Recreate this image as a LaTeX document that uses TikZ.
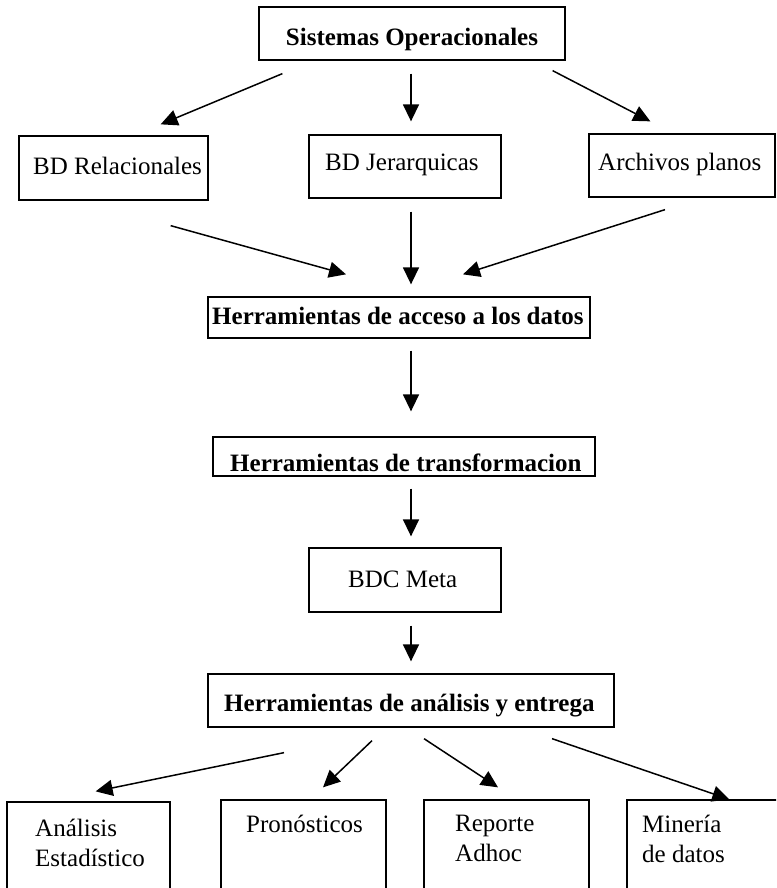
\documentclass[tikz,border=0pt]{standalone}
\usepackage{fontspec}
\setmainfont{Liberation Serif}
\usetikzlibrary{arrows.meta,calc}
\begin{document}
\begin{tikzpicture}[x=1pt,y=-1pt,
  box/.style={draw,line width=1.3pt,inner sep=0pt},
  lbl/.style={inner sep=0pt,font=\fontsize{25}{30}\selectfont},
  blbl/.style={inner sep=0pt,font=\fontsize{25}{30}\selectfont\bfseries},
  arr/.style={line width=1.5pt,-{Triangle[length=17pt,width=16pt]}}]
\useasboundingbox (0,0) rectangle (776,888);
\clip (0,0) rectangle (776,888);
% boxes
\node[box,minimum width=306pt,minimum height=53pt] (top) at (412,33.5) {};
\node[box,minimum width=189pt,minimum height=64pt] (rel) at (113.5,168) {};
\node[box,minimum width=192pt,minimum height=63pt] (jer) at (405,166.5) {};
\node[box,minimum width=186pt,minimum height=63pt] (arc) at (682,165.5) {};
\node[box,minimum width=382pt,minimum height=41pt] (acc) at (399,317.5) {};
\node[box,minimum width=382pt,minimum height=39pt] (tra) at (404,456.5) {};
\node[box,minimum width=192pt,minimum height=64pt] (bdc) at (405,580) {};
\node[box,minimum width=406pt,minimum height=53pt] (ana) at (411,700.5) {};
\node[box,minimum width=163pt,minimum height=120pt] (est) at (88.5,862) {};
\node[box,minimum width=165pt,minimum height=120pt] (pro) at (303.5,860) {};
\node[box,minimum width=165pt,minimum height=120pt] (rep) at (506.5,860) {};
\node[box,minimum width=168pt,minimum height=120pt] (mini) at (711,860) {};
% texts
\node[blbl] (ttop) at (412,39) {Sistemas Operacionales};
\node[lbl,anchor=west] (trel) at (33,166) {BD Relacionales};
\node[lbl,anchor=west] (tjer) at (325,165) {BD Jerarquicas};
\node[lbl,anchor=west] (tarc) at (598,164) {Archivos planos};
\node[blbl,anchor=west] (tacc) at (212,316) {Herramientas de acceso a los datos};
\node[blbl,anchor=west] (ttra) at (230,463) {Herramientas de transformacion};
\node[lbl,anchor=west] (tbdc) at (348,579) {BDC Meta};
\node[blbl,anchor=west] (tana) at (224,706) {Herramientas de análisis y entrega};
\node[lbl,anchor=north west,align=left] (test) at (35,819) {Análisis\\Estadístico};
\node[lbl,anchor=north west,align=left] (tpro) at (246,815) {Pronósticos};
\node[lbl,anchor=north west,align=left] (trep) at (455,815) {Reporte\\Adhoc};
\node[lbl,anchor=north west,align=left] (tmin) at (642,815) {Minería\\de datos};
% connectors
\draw[arr] ($(top.south west)+(24,13)$) -- ($(rel.north east)+(-48,-11)$);
\draw[arr] ($(top.south)+(-1,13)$) -- ($(jer.north)+(6,-13)$);
\draw[arr] ($(top.south east)+(-13,10)$) -- ($(arc.north west)+(62,-12)$);
\draw[arr] ($(rel.south east)+(-38,25)$) -- ($(acc.north)+(-53,-22)$);
\draw[arr] ($(jer.south)+(6,13)$) -- ($(acc.north)+(12,-12)$);
\draw[arr] ($(arc.south)+(-17,12)$) -- ($(acc.north)+(64,-22)$);
\draw[arr] ($(acc.south)+(12,12)$) -- ($(tra.north)+(7,-25)$);
\draw[arr] ($(tra.south)+(7,12)$) -- ($(bdc.north)+(6,-11)$);
\draw[arr] ($(bdc.south)+(6,13)$) -- ($(ana.north)+(0,-12)$);
\draw[arr] ($(ana.south)+(-127,25)$) -- ($(est.north east)+(-75,-10)$);
\draw[arr] ($(ana.south)+(-39,13)$) -- ($(pro.north)+(19.5,-12)$);
\draw[arr] ($(ana.south)+(13,11)$) -- ($(rep.north)+(-8.5,-12)$);
\draw[arr] ($(ana.south)+(141,11)$) -- ($(mini.north west)+(103,0)$);
\end{tikzpicture}
\end{document}
